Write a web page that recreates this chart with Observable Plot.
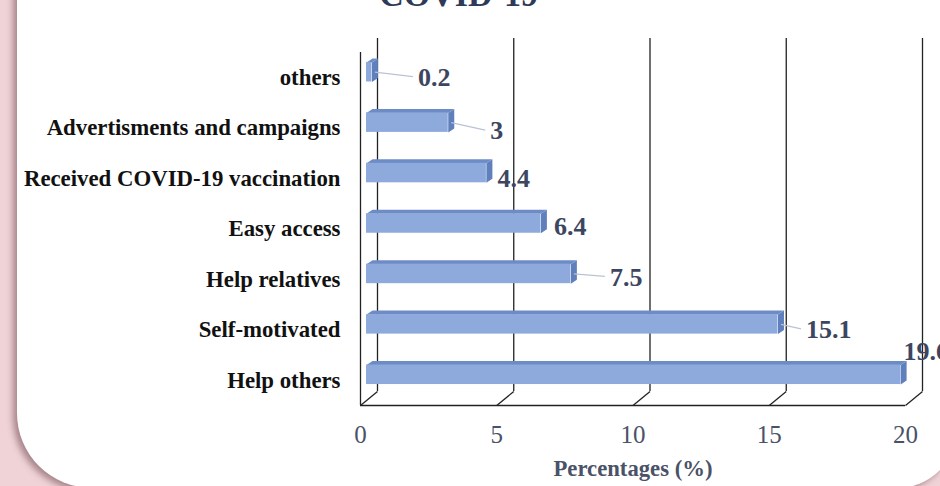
<!DOCTYPE html>
<html><head><meta charset="utf-8">
<script src="https://cdn.jsdelivr.net/npm/d3@7"></script>
<script src="https://cdn.jsdelivr.net/npm/@observablehq/plot@0.6"></script>
<style>
html,body{margin:0;padding:0;width:940px;height:486px;overflow:hidden;background:#efd3d6;}
#panel{position:absolute;left:17px;top:-60px;width:940px;height:548px;background:#fff;border-radius:20px 0 60px 75px;box-shadow:-4px 3px 6px rgba(110,70,78,0.55);}
#chart{position:absolute;left:0;top:0;}
</style></head><body><div id="panel"></div><div id="chart"></div>
<script>
const categories = ["Help others","Self-motivated","Help relatives","Easy access","Received COVID-19 vaccination","Advertisments and campaigns","others"];
const values = [19.6, 15.1, 7.5, 6.4, 4.4, 3, 0.2];
const xTicks = [0, 5, 10, 15, 20];
const title = "COVID-19";
const xLabel = "Percentages (%)";

// layout (pixels)
const W = 940, H = 486, mL = 360, mR = 35, mT = 52, mB = 81;
const n = categories.length;
const pxX = (W - mL - mR) / 20;         // px per x unit
const pxY = (H - mT - mB) / n;          // px per y unit
const ux = p => p / pxX, uy = p => p / pxY;
const labelNudge = [[-3, -29], [22, 0], [33, -2], [7, -2], [5, 0], [36, 3], [40, 0]]; // px [right, down]
const leader = [false, true, true, false, false, true, true];

const rows = categories.map((c, i) => {
  const x1 = ux(6), x2 = values[i] + ux(6);
  const yc = i + uy(5.5), h = uy(9.75);
  return {c, i, v: values[i], x1, x2, yb: yc - h, yt: yc + h};
});
const dX = ux(6), dY = uy(4);
const topFace = rows.flatMap(r => [
  {id: r.i, x: r.x1, y: r.yt}, {id: r.i, x: r.x2, y: r.yt},
  {id: r.i, x: r.x2 + dX, y: r.yt + dY}, {id: r.i, x: r.x1 + dX, y: r.yt + dY}]);
const sideFace = rows.flatMap(r => [
  {id: r.i, x: r.x2, y: r.yb}, {id: r.i, x: r.x2, y: r.yt},
  {id: r.i, x: r.x2 + dX, y: r.yt + dY}, {id: r.i, x: r.x2 + dX, y: r.yb + dY}]);
const floorDiag = xTicks.map(t => ({x1: t, y1: -0.5, x2: t + ux(17), y2: -0.5 + uy(14)}));
const labels = rows.map((r, k) => ({...r, tx: r.x2 + dX + ux(labelNudge[k][0]), ty: r.i - uy(labelNudge[k][1])}));
const leaders = labels.filter((d, k) => leader[k]).map(d => ({x1: d.x2 + dX * 0.5, y1: d.i + uy(5.5), x2: d.tx - ux(5), y2: d.ty + uy(1)}));

const serif = "'Liberation Serif','Times New Roman',serif";
const chart = Plot.plot({
  width: W, height: H, marginLeft: mL, marginRight: mR, marginTop: mT, marginBottom: mB,
  style: {fontFamily: serif, background: "transparent", overflow: "visible"},
  x: {domain: [0, 20]},
  y: {domain: [-0.5, n - 0.5]},
  marks: [
    Plot.ruleX(xTicks, {x: d => d, y1: -0.5, y2: n - 0.5, dx: 17, dy: -14, stroke: "#222", strokeWidth: 1.3}),
    Plot.link(floorDiag, {x1: "x1", y1: "y1", x2: "x2", y2: "y2", stroke: "#222", strokeWidth: 1.3}),
    Plot.ruleY([-0.5], {x1: 0, x2: 20, stroke: "#222", strokeWidth: 1.3}),
    Plot.ruleX([0], {y1: -0.5, y2: n - 0.5, stroke: "#222", strokeWidth: 1.3}),
    Plot.line(sideFace, {x: "x", y: "y", z: "id", fill: "#5f7fbd", stroke: "none", curve: "linear-closed"}),
    Plot.line(topFace, {x: "x", y: "y", z: "id", fill: "#6d8cc6", stroke: "none", curve: "linear-closed"}),
    Plot.rect(rows, {x1: "x1", x2: "x2", y1: "yb", y2: "yt", fill: "#8eaadc"}),
    Plot.link(leaders, {x1: "x1", y1: "y1", x2: "x2", y2: "y2", stroke: "#b9c3d6", strokeWidth: 1.3}),
    Plot.text(labels, {x: "tx", y: "ty", text: d => String(d.v), textAnchor: "start", fontSize: 26, fontWeight: "bold", fill: "#3d4660"}),
    Plot.axisY(d3.range(n), {tickSize: 0, tickPadding: 20, tickFormat: i => categories[i], fontSize: 22.8, fontWeight: "bold", fill: "#111", label: null}),
    Plot.axisX(xTicks, {tickSize: 0, tickPadding: 20, fontSize: 25, fill: "#4a5268", label: null}),
    Plot.text([xLabel], {frameAnchor: "bottom", x: 10, dy: 70, text: d => d, fontSize: 22.7, fontWeight: "bold", fill: "#4a5268"}),
    Plot.text([title], {frameAnchor: "top", x: 3.6, dy: -47, lineAnchor: "bottom", text: d => d, fontSize: 34, fontWeight: "bold", fill: "#2e3a57"})
  ]
});
document.getElementById("chart").appendChild(chart);
</script>
</body></html>
